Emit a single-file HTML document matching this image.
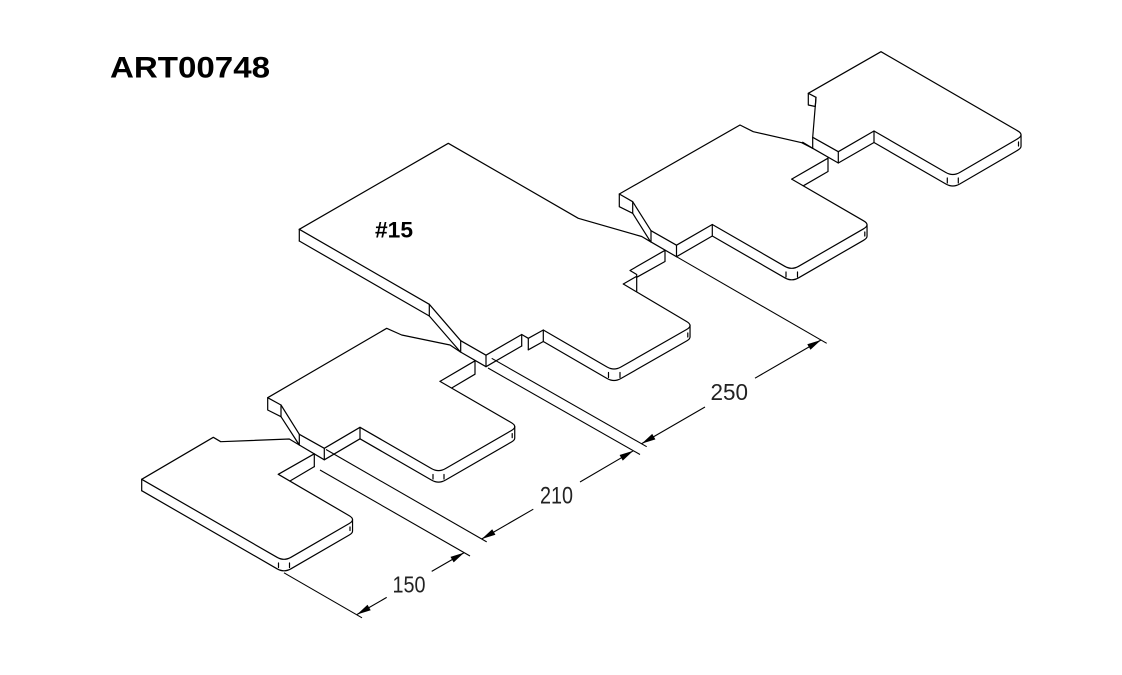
<!DOCTYPE html>
<html><head><meta charset="utf-8"><style>
html,body{margin:0;padding:0;background:#fff;}
svg{display:block;}
</style></head><body>
<svg width="1122" height="675" viewBox="0 0 1122 675" xmlns="http://www.w3.org/2000/svg">
<rect width="1122" height="675" fill="#fff"/>
<text x="110" y="77.5" font-family="Liberation Sans, sans-serif" font-weight="bold" font-size="30" textLength="160" lengthAdjust="spacingAndGlyphs" fill="#000">ART00748</text>

<g stroke="#000" stroke-width="1.2" fill="none" stroke-linejoin="round" stroke-linecap="round">
<!-- Piece A -->
<path d="M141.7,479.3 L213.3,437.3 L220.7,441.7 L289.3,439 L299.3,445"/>
<path d="M141.7,479.3 V490.7"/>
<path d="M141.7,479.3 L277.07,557.3 Q284,561.3 290.93,557.3 L349.07,523.6 Q356,519.6 349.07,515.6 L278.3,474.3"/>
<path d="M141.7,490.7 L277.07,568.8 Q284,572.8 290.93,568.8 L349.07,535.1 Q352.54,533.1 352.54,531.1 V519.6"/>
<path d="M278.5,563 V567.5 M289.5,563 V567.5 M350,527 V530.5"/>
<path d="M278.3,474.3 L314.3,453.8"/>
<path d="M290,481 L314.3,466.6"/>
<path d="M314.3,454 V466.6"/>

<!-- Piece B -->
<path d="M267.7,397.7 L386.7,328.3 L401.7,335 L450,345 L460.5,352"/>
<path d="M267.7,397.7 L281,405 L281,416.7 L267.7,410 Z"/>
<path d="M281,405 L299.3,434.3 M281,416.7 L299.3,445 M299.3,434.3 V445"/>
<path d="M299.3,434.3 L324.3,448.3 L360,427.3 L431.57,468.6 Q438.5,472.6 445.43,468.6 L511.27,430.6 Q518.2,426.6 511.27,422.6 L440,381.4"/>
<path d="M299.3,445 L324.3,459.8 L360,438.8 L431.57,480.1 Q438.5,484.1 445.43,480.1 L511.27,442.1 Q514.74,440.1 514.74,438.1 V426.6"/>
<path d="M324.3,448.3 V459.8 M360,427.3 V438.8"/>
<path d="M433,474.5 V479 M444,474.5 V479 M512.2,433.6 V437.6"/>
<path d="M440,381.4 L475,360.8 M451.7,388 L475,374.2 M475,360.8 V374.2"/>

<!-- Piece #15 -->
<path d="M299.3,229.3 L448.3,143.3 L578.3,218.3 L641.7,236.5 L650.5,241.7"/>
<path d="M299.3,229.3 V241"/>
<path d="M299.3,229.3 L429.3,304.3 M299.3,241 L429.3,316 M429.3,304.3 V316"/>
<path d="M429.3,304.3 L460.7,340.7 M429.3,316 L460.5,352 M460.7,340.7 V352"/>
<path d="M460.7,340.7 L486,355.2 L521.7,334.5 L528.3,338.3 L543.3,330 L607.07,367 Q614,371 620.93,367 L686.57,329.5 Q693.5,325.5 686.57,321.5 L623.3,284"/>
<path d="M460.5,352 L486,366.7 L521.7,346 M528.3,349.8 L543.3,341.5 L607.07,378.5 Q614,382.5 620.93,378.5 L686.57,341 Q690.04,339 690.04,337 V325.5"/>
<path d="M486,355.2 V366.7 M521.7,334.5 V346 M528.3,338.3 V349.8 M543.3,330 V341.5"/>
<path d="M608.5,372.5 V377.5 M620,372.5 V377.5 M687.8,333 V337"/>
<path d="M623.3,284 L636.7,276.3 M636.7,274.5 V291.5 M630,270.5 L636.7,274.5 M630,270.5 L665,250.3 M636.7,277.3 L665,261.5 M665,250.3 V261.5"/>

<!-- Piece C -->
<path d="M619.3,194 L740,125 L753.3,131.7 L801.7,142.7 L812.7,148.3"/>
<path d="M619.3,194 L632.7,201.7 L632.7,213.3 L619.3,206.7 Z"/>
<path d="M632.7,201.7 L651,230.7 M632.7,213.3 L650.5,241.7 M651,230.7 V241.7"/>
<path d="M651,230.7 L676.5,245.2 L712.3,224.5 L784.77,266.3 Q791.7,270.3 798.63,266.3 L863.57,228.8 Q870.5,224.8 863.57,220.8 L791.7,179.1"/>
<path d="M650.5,241.7 L676.5,256.7 L712.3,236 L784.77,277.8 Q791.7,281.8 798.63,277.8 L863.57,240.3 Q867.04,238.3 867.04,236.3 V224.8"/>
<path d="M676.5,245.2 V256.7 M712.3,224.5 V236"/>
<path d="M786,272 V277 M797.5,272 V277 M864.8,232 V236"/>
<path d="M791.7,179.1 L828,158.2 M803.3,185.8 L828,171.5 M828,157.3 V171.5"/>

<!-- Piece D -->
<path d="M808.3,93.3 L816,97.3 L815.3,106.5 L808.3,105 Z"/>
<path d="M808.3,93.3 L881,51.7 L1017.57,130.8 Q1024.5,134.8 1017.57,138.8 L959.73,172.5 Q952.8,176.5 945.87,172.5 L874,131 L838.3,151.7 L812.7,137.3 L816,97.3"/>
<path d="M802.7,142.3 L812.7,148.3 L838.3,163 L874,142.5 L945.87,184 Q952.8,188 959.73,184 L1017.57,150.3 Q1021.04,148.3 1021.04,146.3 V134.8"/>
<path d="M812.7,137.3 V148.3 M838.3,151.7 V163 M874,131 V142.5"/>
<path d="M947.3,178 V183 M958.3,178 V183 M1018.5,142 V146"/>
</g>

<!-- Dimensions -->
<g stroke="#000" stroke-width="1.1" fill="none">
<path d="M284,572.8 L362,617.8"/>
<path d="M320,470 L470,556"/>
<path d="M357,614.5 L386.7,597.4 M431.7,571.4 L464.2,552.6"/>
<path d="M326,449.5 L486.7,541.9"/>
<path d="M488,368 L640,454.5"/>
<path d="M491.7,358.3 L646.7,446.7"/>
<path d="M481.7,539 L533.3,509.2 M580,482 L633.3,450.8"/>
<path d="M676.5,256.7 L826.7,343.3"/>
<path d="M641.7,443.6 L705,407 M755,378.2 L821,340"/>
</g>
<g fill="#000" stroke="none">
<polygon points="357,614.5 370.72,610.27 367.52,604.73"/>
<polygon points="464.2,552.6 450.48,556.83 453.68,562.37"/>
<polygon points="481.7,539 495.42,534.77 492.22,529.23"/>
<polygon points="633.3,450.8 619.58,455.03 622.78,460.57"/>
<polygon points="641.7,443.6 655.42,439.37 652.22,433.83"/>
<polygon points="821,340 807.28,344.23 810.48,349.77"/>
</g>

<g font-family="Liberation Sans, sans-serif" fill="#222">
<text x="392.5" y="592.5" font-size="23.5" textLength="33" lengthAdjust="spacingAndGlyphs">150</text>
<text x="540" y="503.3" font-size="24" textLength="33" lengthAdjust="spacingAndGlyphs">210</text>
<text x="710.5" y="400" font-size="23.5" textLength="37.5" lengthAdjust="spacingAndGlyphs">250</text>
</g>
<text x="375" y="237.3" font-family="Liberation Sans, sans-serif" font-weight="bold" font-size="22" textLength="38" lengthAdjust="spacingAndGlyphs" fill="#000">#15</text>
</svg>
</body></html>
